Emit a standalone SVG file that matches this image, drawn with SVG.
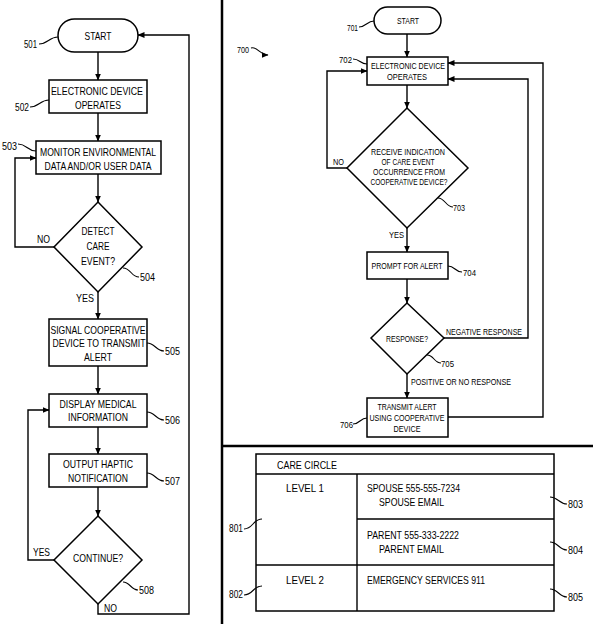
<svg xmlns="http://www.w3.org/2000/svg" width="593" height="624" viewBox="0 0 593 624">
<style>
.ln{fill:none;stroke:#000;stroke-width:1.4}
.ld{fill:none;stroke:#000;stroke-width:1.1}
.bx{fill:#fff;stroke:#000;stroke-width:1.5}
.dv{fill:none;stroke:#000;stroke-width:2.5}
text{font-family:"Liberation Sans",Arial,sans-serif;fill:#000;font-size:11px}
.m{text-anchor:middle}
.s{font-size:9.5px}
.xs{font-size:8.6px}
.tb{font-size:10.5px}
</style>
<defs>
<marker id="ah" markerUnits="userSpaceOnUse" markerWidth="7" markerHeight="6" refX="6.5" refY="3" orient="auto">
<path d="M0,0 L7,3 L0,6 z" fill="#000"/>
</marker>
</defs>
<rect width="593" height="624" fill="#fff"/>
<g id="dividers">
<line class="dv" x1="222" y1="0" x2="222" y2="624"/>
<line class="dv" x1="222" y1="446" x2="593" y2="446"/>
</g>
<g id="connectors">
<path class="ln" d="M98,52 V80" marker-end="url(#ah)"/>
<path class="ln" d="M98,113 V141" marker-end="url(#ah)"/>
<path class="ln" d="M98,174 V202" marker-end="url(#ah)"/>
<path class="ln" d="M54,247 H15 V158 H36" marker-end="url(#ah)"/>
<path class="ln" d="M98,292 V319" marker-end="url(#ah)"/>
<path class="ln" d="M98,366 V394" marker-end="url(#ah)"/>
<path class="ln" d="M98,427 V454" marker-end="url(#ah)"/>
<path class="ln" d="M98,487 V516" marker-end="url(#ah)"/>
<path class="ln" d="M54,560 H28 V410 H49" marker-end="url(#ah)"/>
<path class="ln" d="M98,604 V614 H189 V35 H138" marker-end="url(#ah)"/>
<path class="ln" d="M407,34 V57" marker-end="url(#ah)"/>
<path class="ln" d="M407,85 V108" marker-end="url(#ah)"/>
<path class="ln" d="M347,168 H327 V71 H367" marker-end="url(#ah)"/>
<path class="ln" d="M407,228 V252" marker-end="url(#ah)"/>
<path class="ln" d="M407,279 V303" marker-end="url(#ah)"/>
<path class="ln" d="M444,338 H528 V79 H448" marker-end="url(#ah)"/>
<path class="ln" d="M407,374 V398" marker-end="url(#ah)"/>
<path class="ln" d="M448,417 H543 V63 H448" marker-end="url(#ah)"/>
<text x="37" y="243" textLength="13" lengthAdjust="spacingAndGlyphs">NO</text>
<text x="76" y="302" textLength="18" lengthAdjust="spacingAndGlyphs">YES</text>
<text x="33" y="556" textLength="17" lengthAdjust="spacingAndGlyphs">YES</text>
<text x="104" y="612" textLength="13" lengthAdjust="spacingAndGlyphs">NO</text>
<text class="s" x="333" y="165" textLength="11" lengthAdjust="spacingAndGlyphs">NO</text>
<text class="s" x="389" y="238" textLength="15" lengthAdjust="spacingAndGlyphs">YES</text>
<text class="s" x="446" y="335" textLength="76" lengthAdjust="spacingAndGlyphs">NEGATIVE RESPONSE</text>
<text class="s" x="411" y="385" textLength="100" lengthAdjust="spacingAndGlyphs">POSITIVE OR NO RESPONSE</text>
</g>
<g id="n501">
<rect class="bx" x="58" y="19" width="80" height="33" rx="16.5"/>
<text class="m" x="98" y="40" textLength="27" lengthAdjust="spacingAndGlyphs">START</text>
<path class="ld" d="M39,44 C48,44 49,37 58,37"/>
<text x="24" y="48" textLength="13" lengthAdjust="spacingAndGlyphs">501</text>
</g>
<g id="n502">
<rect class="bx" x="49" y="80" width="98" height="33"/>
<text class="m" x="97" y="95" textLength="92" lengthAdjust="spacingAndGlyphs">ELECTRONIC DEVICE</text>
<text class="m" x="98" y="109" textLength="46" lengthAdjust="spacingAndGlyphs">OPERATES</text>
<path class="ld" d="M30,107 C39,107 40,100 49,100"/>
<text x="15" y="111" textLength="14" lengthAdjust="spacingAndGlyphs">502</text>
</g>
<g id="n503">
<rect class="bx" x="36" y="141" width="125" height="33"/>
<text class="m" x="98" y="156" textLength="116" lengthAdjust="spacingAndGlyphs">MONITOR ENVIRONMENTAL</text>
<text class="m" x="98" y="170" textLength="107" lengthAdjust="spacingAndGlyphs">DATA AND/OR USER DATA</text>
<path class="ld" d="M18,144 C27,144 27,151 36,151"/>
<text x="2" y="150" textLength="15" lengthAdjust="spacingAndGlyphs">503</text>
</g>
<g id="n504">
<polygon class="bx" points="98,202 142,247 98,292 54,247"/>
<text class="m" x="98" y="235" textLength="33" lengthAdjust="spacingAndGlyphs">DETECT</text>
<text class="m" x="98" y="250" textLength="23" lengthAdjust="spacingAndGlyphs">CARE</text>
<text class="m" x="98" y="265" textLength="34" lengthAdjust="spacingAndGlyphs">EVENT?</text>
<path class="ld" d="M123,268 C131,268 131,277 139,277"/>
<text x="140" y="281" textLength="15" lengthAdjust="spacingAndGlyphs">504</text>
</g>
<g id="n505">
<rect class="bx" x="49" y="319" width="98" height="47"/>
<text class="m" x="98" y="334" textLength="95" lengthAdjust="spacingAndGlyphs">SIGNAL COOPERATIVE</text>
<text class="m" x="99" y="347" textLength="93" lengthAdjust="spacingAndGlyphs">DEVICE TO TRANSMIT</text>
<text class="m" x="98" y="361" textLength="28" lengthAdjust="spacingAndGlyphs">ALERT</text>
<path class="ld" d="M147,343 C155,343 156,351 164,351"/>
<text x="165" y="355" textLength="15" lengthAdjust="spacingAndGlyphs">505</text>
</g>
<g id="n506">
<rect class="bx" x="49" y="394" width="98" height="33"/>
<text class="m" x="98" y="408" textLength="77" lengthAdjust="spacingAndGlyphs">DISPLAY MEDICAL</text>
<text class="m" x="98" y="421" textLength="60" lengthAdjust="spacingAndGlyphs">INFORMATION</text>
<path class="ld" d="M147,412 C155,412 156,420 164,420"/>
<text x="165" y="424" textLength="15" lengthAdjust="spacingAndGlyphs">506</text>
</g>
<g id="n507">
<rect class="bx" x="49" y="454" width="98" height="33"/>
<text class="m" x="98" y="468" textLength="70" lengthAdjust="spacingAndGlyphs">OUTPUT HAPTIC</text>
<text class="m" x="98" y="482" textLength="60" lengthAdjust="spacingAndGlyphs">NOTIFICATION</text>
<path class="ld" d="M147,473 C155,473 156,481 164,481"/>
<text x="165" y="485" textLength="15" lengthAdjust="spacingAndGlyphs">507</text>
</g>
<g id="n508">
<polygon class="bx" points="98,516 142,560 98,604 54,560"/>
<text class="m" x="98" y="562" textLength="50" lengthAdjust="spacingAndGlyphs">CONTINUE?</text>
<path class="ld" d="M123,582 C130,582 131,590 138,590"/>
<text x="139" y="594" textLength="15" lengthAdjust="spacingAndGlyphs">508</text>
</g>
<g id="n700">
<text class="s" x="237" y="53" textLength="12" lengthAdjust="spacingAndGlyphs">700</text>
<path class="ld" d="M251,48 C257,46 260,55 268,55" marker-end="url(#ah)"/>
</g>
<g id="n701">
<rect class="bx" x="374" y="7" width="67" height="27" rx="13.5"/>
<text class="m s" x="408" y="24" textLength="22" lengthAdjust="spacingAndGlyphs">START</text>
<path class="ld" d="M359,27 C366,27 367,21 374,21"/>
<text class="s" x="347" y="31" textLength="11" lengthAdjust="spacingAndGlyphs">701</text>
</g>
<g id="n702">
<rect class="bx" x="367" y="57" width="81" height="28"/>
<text class="m s" x="408" y="69" textLength="74" lengthAdjust="spacingAndGlyphs">ELECTRONIC DEVICE</text>
<text class="m s" x="407" y="80" textLength="40" lengthAdjust="spacingAndGlyphs">OPERATES</text>
<path class="ld" d="M353,59 C360,59 360,64 367,64"/>
<text class="s" x="339" y="63" textLength="13" lengthAdjust="spacingAndGlyphs">702</text>
</g>
<g id="n703">
<polygon class="bx" points="407,108 468,168 407,228 347,168"/>
<text class="m xs" x="408" y="155" textLength="74" lengthAdjust="spacingAndGlyphs">RECEIVE INDICATION</text>
<text class="m xs" x="408" y="165" textLength="53" lengthAdjust="spacingAndGlyphs">OF CARE EVENT</text>
<text class="m xs" x="409" y="175" textLength="72" lengthAdjust="spacingAndGlyphs">OCCURRENCE FROM</text>
<text class="m xs" x="409" y="185" textLength="77" lengthAdjust="spacingAndGlyphs">COOPERATIVE DEVICE?</text>
<path class="ld" d="M438,198 C445,198 446,207 453,207"/>
<text class="s" x="453" y="211" textLength="12" lengthAdjust="spacingAndGlyphs">703</text>
</g>
<g id="n704">
<rect class="bx" x="367" y="252" width="81" height="27"/>
<text class="m s" x="407" y="269" textLength="71" lengthAdjust="spacingAndGlyphs">PROMPT FOR ALERT</text>
<path class="ld" d="M448,266 C455,266 455,272 462,272"/>
<text class="s" x="463" y="276" textLength="13" lengthAdjust="spacingAndGlyphs">704</text>
</g>
<g id="n705">
<polygon class="bx" points="407,303 444,338 407,374 371,338"/>
<text class="m s" x="407" y="342" textLength="42" lengthAdjust="spacingAndGlyphs">RESPONSE?</text>
<path class="ld" d="M427,355 C434,355 434,363 441,363"/>
<text class="s" x="441" y="367" textLength="13" lengthAdjust="spacingAndGlyphs">705</text>
</g>
<g id="n706">
<rect class="bx" x="367" y="398" width="81" height="39"/>
<text class="m s" x="407" y="410" textLength="59" lengthAdjust="spacingAndGlyphs">TRANSMIT ALERT</text>
<text class="m s" x="407" y="421" textLength="75" lengthAdjust="spacingAndGlyphs">USING COOPERATIVE</text>
<text class="m s" x="407" y="432" textLength="27" lengthAdjust="spacingAndGlyphs">DEVICE</text>
<path class="ld" d="M353,424 C360,424 360,418 367,418"/>
<text class="s" x="340" y="428" textLength="13" lengthAdjust="spacingAndGlyphs">706</text>
</g>
<g id="table">
<rect class="bx" x="256" y="454" width="298" height="157"/>
<line class="ln" x1="256" y1="474" x2="554" y2="474"/>
<line class="ln" x1="357" y1="474" x2="357" y2="611"/>
<line class="ln" x1="357" y1="519" x2="554" y2="519"/>
<line class="ln" x1="256" y1="565" x2="554" y2="565"/>
<text class="tb" x="277" y="469" textLength="60" lengthAdjust="spacingAndGlyphs">CARE CIRCLE</text>
<text class="tb m" x="305" y="492" textLength="38" lengthAdjust="spacingAndGlyphs">LEVEL 1</text>
<text class="tb" x="367" y="492" textLength="93" lengthAdjust="spacingAndGlyphs">SPOUSE 555-555-7234</text>
<text class="tb" x="379" y="506" textLength="65" lengthAdjust="spacingAndGlyphs">SPOUSE EMAIL</text>
<text class="tb" x="367" y="539" textLength="92" lengthAdjust="spacingAndGlyphs">PARENT 555-333-2222</text>
<text class="tb" x="379" y="553" textLength="65" lengthAdjust="spacingAndGlyphs">PARENT EMAIL</text>
<text class="tb m" x="305" y="584" textLength="38" lengthAdjust="spacingAndGlyphs">LEVEL 2</text>
<text class="tb" x="367" y="584" textLength="118" lengthAdjust="spacingAndGlyphs">EMERGENCY SERVICES 911</text>
</g>
<g id="n801">
<path class="ld" d="M244,529 C253,529 253,519 262,519"/>
<text class="tb" x="229" y="532" textLength="14" lengthAdjust="spacingAndGlyphs">801</text>
</g>
<g id="n802">
<path class="ld" d="M244,595 C253,595 253,586 262,586"/>
<text class="tb" x="229" y="598" textLength="14" lengthAdjust="spacingAndGlyphs">802</text>
</g>
<g id="n803">
<path class="ld" d="M550,497 C558,497 559,504 567,504"/>
<text class="tb" x="568" y="508" textLength="15" lengthAdjust="spacingAndGlyphs">803</text>
</g>
<g id="n804">
<path class="ld" d="M550,542 C558,542 559,550 567,550"/>
<text class="tb" x="568" y="554" textLength="15" lengthAdjust="spacingAndGlyphs">804</text>
</g>
<g id="n805">
<path class="ld" d="M550,589 C558,589 559,597 567,597"/>
<text class="tb" x="568" y="601" textLength="15" lengthAdjust="spacingAndGlyphs">805</text>
</g>
</svg>
